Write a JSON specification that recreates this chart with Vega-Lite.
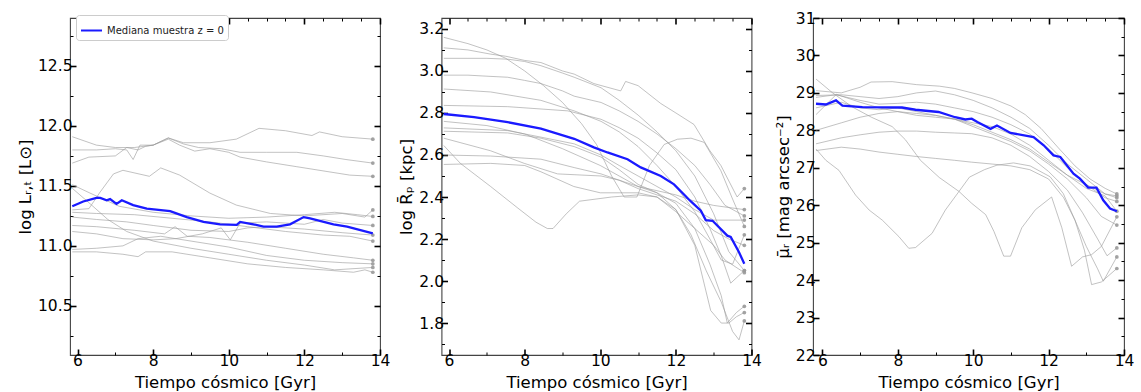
{
  "$schema": "https://vega.github.io/schema/vega-lite/v6.json",
  "padding": {"left": 16, "top": 10, "right": 5, "bottom": 0},
  "config": {
    "font": "DejaVu Sans",
    "view": {"stroke": "#444444", "strokeWidth": 1.1},
    "axis": {"labelFont": "DejaVu Sans", "labelFontSize": 15.5, "labelColor": "black", "titleFont": "DejaVu Sans", "titleFontSize": 16.5, "titleFontWeight": "normal", "titleColor": "black", "grid": false, "domain": false, "tickColor": "black", "labelFlush": false, "labelOverlap": false, "labelBound": false}
  },
  "datasets": {
    "p1": [
      {"s":"G1","t":5.86,"v":11.91},{"s":"G1","t":6.5,"v":11.84},{"s":"G1","t":7.0,"v":11.82},{"s":"G1","t":7.5,"v":11.82},{"s":"G1","t":8.0,"v":11.84},{"s":"G1","t":8.4,"v":11.90},{"s":"G1","t":8.8,"v":11.86},{"s":"G1","t":9.5,"v":11.86},{"s":"G1","t":10.2,"v":11.89},{"s":"G1","t":10.8,"v":11.98},{"s":"G1","t":11.5,"v":11.96},{"s":"G1","t":12.2,"v":11.92},{"s":"G1","t":12.4,"v":11.95},{"s":"G1","t":13.0,"v":11.91},{"s":"G1","t":13.81,"v":11.89},
      {"s":"G2","t":5.86,"v":11.80},{"s":"G2","t":6.5,"v":11.80},{"s":"G2","t":7.0,"v":11.81},{"s":"G2","t":7.3,"v":11.80},{"s":"G2","t":7.47,"v":11.72},{"s":"G2","t":7.65,"v":11.84},{"s":"G2","t":8.0,"v":11.84},{"s":"G2","t":8.4,"v":11.90},{"s":"G2","t":8.8,"v":11.85},{"s":"G2","t":9.2,"v":11.82},{"s":"G2","t":9.8,"v":11.81},{"s":"G2","t":10.3,"v":11.78},{"s":"G2","t":11.0,"v":11.78},{"s":"G2","t":11.8,"v":11.78},{"s":"G2","t":12.5,"v":11.75},{"s":"G2","t":13.1,"v":11.72},{"s":"G2","t":13.81,"v":11.69},
      {"s":"G3","t":5.86,"v":11.69},{"s":"G3","t":6.3,"v":11.74},{"s":"G3","t":7.0,"v":11.75},{"s":"G3","t":7.3,"v":11.82},{"s":"G3","t":7.6,"v":11.80},{"s":"G3","t":7.8,"v":11.83},{"s":"G3","t":8.0,"v":11.84},{"s":"G3","t":8.4,"v":11.89},{"s":"G3","t":8.7,"v":11.84},{"s":"G3","t":9.1,"v":11.79},{"s":"G3","t":9.5,"v":11.81},{"s":"G3","t":10.0,"v":11.78},{"s":"G3","t":10.3,"v":11.74},{"s":"G3","t":11.0,"v":11.70},{"s":"G3","t":11.8,"v":11.66},{"s":"G3","t":12.6,"v":11.62},{"s":"G3","t":13.2,"v":11.59},{"s":"G3","t":13.81,"v":11.58},
      {"s":"G4","t":5.86,"v":11.30},{"s":"G4","t":6.3,"v":11.31},{"s":"G4","t":6.6,"v":11.45},{"s":"G4","t":6.95,"v":11.60},{"s":"G4","t":7.2,"v":11.63},{"s":"G4","t":7.9,"v":11.58},{"s":"G4","t":8.2,"v":11.65},{"s":"G4","t":8.7,"v":11.59},{"s":"G4","t":9.5,"v":11.44},{"s":"G4","t":10.2,"v":11.34},{"s":"G4","t":11.1,"v":11.27},{"s":"G4","t":12.0,"v":11.25},{"s":"G4","t":13.0,"v":11.27},{"s":"G4","t":13.6,"v":11.24},{"s":"G4","t":13.81,"v":11.30},
      {"s":"G5","t":5.86,"v":11.51},{"s":"G5","t":6.33,"v":11.44},{"s":"G5","t":7.1,"v":11.33},{"s":"G5","t":8.0,"v":11.28},{"s":"G5","t":9.0,"v":11.25},{"s":"G5","t":10.0,"v":11.23},{"s":"G5","t":11.0,"v":11.24},{"s":"G5","t":12.0,"v":11.26},{"s":"G5","t":12.8,"v":11.28},{"s":"G5","t":13.4,"v":11.26},{"s":"G5","t":13.81,"v":11.245},
      {"s":"G6","t":5.86,"v":11.48},{"s":"G6","t":6.3,"v":11.36},{"s":"G6","t":6.8,"v":11.22},{"s":"G6","t":7.3,"v":11.12},{"s":"G6","t":8.0,"v":11.04},{"s":"G6","t":9.0,"v":10.98},{"s":"G6","t":10.0,"v":10.93},{"s":"G6","t":11.0,"v":10.88},{"s":"G6","t":12.0,"v":10.84},{"s":"G6","t":12.8,"v":10.80},{"s":"G6","t":13.81,"v":10.82},
      {"s":"G7","t":5.86,"v":11.28},{"s":"G7","t":6.5,"v":11.27},{"s":"G7","t":7.5,"v":11.26},{"s":"G7","t":8.5,"v":11.23},{"s":"G7","t":9.5,"v":11.20},{"s":"G7","t":10.5,"v":11.16},{"s":"G7","t":11.5,"v":11.12},{"s":"G7","t":12.5,"v":11.09},{"s":"G7","t":13.2,"v":11.08},{"s":"G7","t":13.81,"v":11.04},
      {"s":"G8","t":5.86,"v":11.17},{"s":"G8","t":6.5,"v":11.16},{"s":"G8","t":7.5,"v":11.13},{"s":"G8","t":8.3,"v":11.10},{"s":"G8","t":8.58,"v":11.16},{"s":"G8","t":8.9,"v":11.08},{"s":"G8","t":9.5,"v":11.07},{"s":"G8","t":10.5,"v":11.03},{"s":"G8","t":11.5,"v":10.98},{"s":"G8","t":12.5,"v":10.93},{"s":"G8","t":13.3,"v":10.90},{"s":"G8","t":13.81,"v":10.88},
      {"s":"G9","t":5.86,"v":11.12},{"s":"G9","t":6.5,"v":11.10},{"s":"G9","t":7.2,"v":11.06},{"s":"G9","t":8.0,"v":11.05},{"s":"G9","t":8.6,"v":11.06},{"s":"G9","t":9.3,"v":11.10},{"s":"G9","t":9.8,"v":11.15},{"s":"G9","t":10.04,"v":11.05},{"s":"G9","t":10.3,"v":11.19},{"s":"G9","t":11.0,"v":11.20},{"s":"G9","t":12.0,"v":11.18},{"s":"G9","t":12.5,"v":11.22},{"s":"G9","t":13.0,"v":11.19},{"s":"G9","t":13.81,"v":11.17},
      {"s":"G10","t":5.86,"v":10.97},{"s":"G10","t":6.5,"v":10.98},{"s":"G10","t":7.2,"v":11.0},{"s":"G10","t":7.6,"v":11.06},{"s":"G10","t":8.2,"v":11.08},{"s":"G10","t":9.0,"v":11.04},{"s":"G10","t":10.0,"v":10.99},{"s":"G10","t":11.0,"v":10.92},{"s":"G10","t":12.0,"v":10.88},{"s":"G10","t":13.0,"v":10.86},{"s":"G10","t":13.81,"v":10.85},
      {"s":"G11","t":5.86,"v":10.95},{"s":"G11","t":6.5,"v":10.95},{"s":"G11","t":7.2,"v":10.93},{"s":"G11","t":7.6,"v":10.91},{"s":"G11","t":7.8,"v":10.95},{"s":"G11","t":8.5,"v":10.95},{"s":"G11","t":9.5,"v":10.9},{"s":"G11","t":10.5,"v":10.85},{"s":"G11","t":11.5,"v":10.82},{"s":"G11","t":12.5,"v":10.8},{"s":"G11","t":13.3,"v":10.78},{"s":"G11","t":13.6,"v":10.80},{"s":"G11","t":13.81,"v":10.78},
      {"s":"G12","t":5.86,"v":11.24},{"s":"G12","t":6.5,"v":11.22},{"s":"G12","t":7.3,"v":11.20},{"s":"G12","t":8.0,"v":11.17},{"s":"G12","t":9.0,"v":11.13},{"s":"G12","t":10.0,"v":11.12},{"s":"G12","t":10.5,"v":11.15},{"s":"G12","t":11.0,"v":11.16},{"s":"G12","t":12.0,"v":11.14},{"s":"G12","t":13.0,"v":11.11},{"s":"G12","t":13.81,"v":11.09}
    ],
    "m1": [
      {"t":5.86,"v":11.33},{"t":6.15,"v":11.37},{"t":6.5,"v":11.40},{"t":6.6,"v":11.40},{"t":6.77,"v":11.38},{"t":6.86,"v":11.39},{"t":7.03,"v":11.35},{"t":7.17,"v":11.38},{"t":7.47,"v":11.34},{"t":7.83,"v":11.31},{"t":8.45,"v":11.29},{"t":8.89,"v":11.24},{"t":9.33,"v":11.20},{"t":9.77,"v":11.18},{"t":10.21,"v":11.175},{"t":10.3,"v":11.20},{"t":10.65,"v":11.18},{"t":10.92,"v":11.16},{"t":11.27,"v":11.16},{"t":11.62,"v":11.18},{"t":11.98,"v":11.24},{"t":12.15,"v":11.23},{"t":12.77,"v":11.18},{"t":13.13,"v":11.16},{"t":13.81,"v":11.105}
    ],
    "p2": [
      {"s":"A","t":5.86,"v":3.16},{"s":"A","t":6.5,"v":3.13},{"s":"A","t":7.0,"v":3.10},{"s":"A","t":7.5,"v":3.06},{"s":"A","t":8.0,"v":3.00},{"s":"A","t":8.5,"v":2.93},{"s":"A","t":9.0,"v":2.85},{"s":"A","t":9.5,"v":2.75},{"s":"A","t":9.9,"v":2.65},{"s":"A","t":10.3,"v":2.50},{"s":"A","t":10.63,"v":2.40},{"s":"A","t":10.97,"v":2.40},{"s":"A","t":11.3,"v":2.55},{"s":"A","t":11.69,"v":2.65},{"s":"A","t":12.04,"v":2.675},{"s":"A","t":12.4,"v":2.68},{"s":"A","t":12.75,"v":2.66},{"s":"A","t":13.19,"v":2.525},{"s":"A","t":13.5,"v":2.39},{"s":"A","t":13.81,"v":2.26},
      {"s":"B","t":5.86,"v":3.11},{"s":"B","t":6.5,"v":3.10},{"s":"B","t":7.1,"v":3.08},{"s":"B","t":7.5,"v":3.07},{"s":"B","t":8.0,"v":3.05},{"s":"B","t":8.43,"v":3.04},{"s":"B","t":9.0,"v":3.0},{"s":"B","t":9.31,"v":2.985},{"s":"B","t":9.83,"v":2.94},{"s":"B","t":10.54,"v":2.905},{"s":"B","t":10.67,"v":2.95},{"s":"B","t":11.0,"v":2.93},{"s":"B","t":11.6,"v":2.845},{"s":"B","t":12.0,"v":2.80},{"s":"B","t":12.48,"v":2.745},{"s":"B","t":12.9,"v":2.62},{"s":"B","t":13.19,"v":2.55},{"s":"B","t":13.62,"v":2.40},{"s":"B","t":13.81,"v":2.44},
      {"s":"C","t":5.86,"v":3.06},{"s":"C","t":6.5,"v":3.06},{"s":"C","t":7.0,"v":3.06},{"s":"C","t":7.55,"v":3.056},{"s":"C","t":8.0,"v":3.045},{"s":"C","t":8.43,"v":3.025},{"s":"C","t":9.0,"v":2.99},{"s":"C","t":9.31,"v":2.97},{"s":"C","t":10.02,"v":2.92},{"s":"C","t":10.5,"v":2.86},{"s":"C","t":11.0,"v":2.79},{"s":"C","t":11.5,"v":2.71},{"s":"C","t":12.0,"v":2.62},{"s":"C","t":12.5,"v":2.50},{"s":"C","t":13.0,"v":2.32},{"s":"C","t":13.4,"v":2.14},{"s":"C","t":13.81,"v":2.05},
      {"s":"D","t":5.86,"v":2.98},{"s":"D","t":6.5,"v":2.98},{"s":"D","t":7.0,"v":2.975},{"s":"D","t":7.55,"v":2.97},{"s":"D","t":8.0,"v":2.955},{"s":"D","t":8.43,"v":2.94},{"s":"D","t":9.0,"v":2.905},{"s":"D","t":9.31,"v":2.88},{"s":"D","t":10.02,"v":2.85},{"s":"D","t":10.5,"v":2.81},{"s":"D","t":11.0,"v":2.76},{"s":"D","t":11.5,"v":2.70},{"s":"D","t":12.0,"v":2.63},{"s":"D","t":12.5,"v":2.55},{"s":"D","t":12.9,"v":2.46},{"s":"D","t":13.3,"v":2.36},{"s":"D","t":13.81,"v":2.31},
      {"s":"E","t":5.86,"v":2.914},{"s":"E","t":7.1,"v":2.90},{"s":"E","t":8.43,"v":2.86},{"s":"E","t":9.31,"v":2.81},{"s":"E","t":10.02,"v":2.76},{"s":"E","t":10.5,"v":2.71},{"s":"E","t":11.0,"v":2.64},{"s":"E","t":11.5,"v":2.55},{"s":"E","t":12.0,"v":2.45},{"s":"E","t":12.5,"v":2.33},{"s":"E","t":12.9,"v":2.20},{"s":"E","t":13.2,"v":2.10},{"s":"E","t":13.5,"v":2.08},{"s":"E","t":13.81,"v":2.22},
      {"s":"F","t":5.86,"v":2.836},{"s":"F","t":7.55,"v":2.83},{"s":"F","t":9.14,"v":2.81},{"s":"F","t":10.02,"v":2.77},{"s":"F","t":10.5,"v":2.73},{"s":"F","t":11.0,"v":2.68},{"s":"F","t":11.5,"v":2.61},{"s":"F","t":12.0,"v":2.53},{"s":"F","t":12.5,"v":2.40},{"s":"F","t":12.9,"v":2.25},{"s":"F","t":13.2,"v":2.12},{"s":"F","t":13.45,"v":1.99},{"s":"F","t":13.81,"v":2.05},
      {"s":"G","t":5.86,"v":2.729},{"s":"G","t":7.55,"v":2.716},{"s":"G","t":8.43,"v":2.685},{"s":"G","t":9.31,"v":2.653},{"s":"G","t":10.02,"v":2.60},{"s":"G","t":10.5,"v":2.55},{"s":"G","t":11.0,"v":2.50},{"s":"G","t":11.5,"v":2.45},{"s":"G","t":12.0,"v":2.40},{"s":"G","t":12.5,"v":2.34},{"s":"G","t":13.0,"v":2.29},{"s":"G","t":13.4,"v":2.29},{"s":"G","t":13.81,"v":2.29},
      {"s":"H","t":5.86,"v":2.713},{"s":"H","t":7.55,"v":2.705},{"s":"H","t":8.43,"v":2.68},{"s":"H","t":9.31,"v":2.64},{"s":"H","t":10.02,"v":2.59},{"s":"H","t":10.5,"v":2.53},{"s":"H","t":11.0,"v":2.46},{"s":"H","t":11.5,"v":2.42},{"s":"H","t":12.0,"v":2.37},{"s":"H","t":12.5,"v":2.25},{"s":"H","t":12.9,"v":2.08},{"s":"H","t":13.2,"v":1.93},{"s":"H","t":13.36,"v":1.80},{"s":"H","t":13.6,"v":1.85},{"s":"H","t":13.81,"v":1.88},
      {"s":"I","t":5.86,"v":2.68},{"s":"I","t":7.1,"v":2.62},{"s":"I","t":7.99,"v":2.56},{"s":"I","t":8.87,"v":2.51},{"s":"I","t":10.02,"v":2.50},{"s":"I","t":10.5,"v":2.48},{"s":"I","t":11.0,"v":2.45},{"s":"I","t":11.5,"v":2.42},{"s":"I","t":12.0,"v":2.34},{"s":"I","t":12.5,"v":2.17},{"s":"I","t":12.92,"v":1.86},{"s":"I","t":13.2,"v":1.80},{"s":"I","t":13.4,"v":1.80},{"s":"I","t":13.6,"v":1.83},{"s":"I","t":13.81,"v":1.85},
      {"s":"J","t":5.86,"v":2.645},{"s":"J","t":6.3,"v":2.56},{"s":"J","t":7.1,"v":2.45},{"s":"J","t":7.8,"v":2.35},{"s":"J","t":8.3,"v":2.28},{"s":"J","t":8.6,"v":2.25},{"s":"J","t":8.75,"v":2.25},{"s":"J","t":9.1,"v":2.32},{"s":"J","t":9.45,"v":2.38},{"s":"J","t":10.3,"v":2.40},{"s":"J","t":11.0,"v":2.41},{"s":"J","t":11.5,"v":2.40},{"s":"J","t":12.0,"v":2.34},{"s":"J","t":12.4,"v":2.22},{"s":"J","t":12.8,"v":2.05},{"s":"J","t":13.2,"v":1.90},{"s":"J","t":13.5,"v":1.76},{"s":"J","t":13.67,"v":1.72},{"s":"J","t":13.81,"v":1.81},
      {"s":"K","t":5.86,"v":2.60},{"s":"K","t":7.1,"v":2.595},{"s":"K","t":8.43,"v":2.58},{"s":"K","t":9.31,"v":2.54},{"s":"K","t":10.02,"v":2.51},{"s":"K","t":10.5,"v":2.48},{"s":"K","t":11.0,"v":2.44},{"s":"K","t":11.5,"v":2.41},{"s":"K","t":12.0,"v":2.38},{"s":"K","t":12.5,"v":2.32},{"s":"K","t":13.0,"v":2.24},{"s":"K","t":13.4,"v":2.20},{"s":"K","t":13.81,"v":2.17},
      {"s":"L","t":5.86,"v":2.555},{"s":"L","t":7.1,"v":2.56},{"s":"L","t":8.0,"v":2.55},{"s":"L","t":8.43,"v":2.52},{"s":"L","t":9.3,"v":2.45},{"s":"L","t":10.0,"v":2.42},{"s":"L","t":10.5,"v":2.42},{"s":"L","t":11.0,"v":2.42},{"s":"L","t":11.5,"v":2.40},{"s":"L","t":12.0,"v":2.33},{"s":"L","t":12.5,"v":2.25},{"s":"L","t":13.0,"v":2.17},{"s":"L","t":13.3,"v":2.1},{"s":"L","t":13.81,"v":2.04},
      {"s":"M","t":5.86,"v":2.76},{"s":"M","t":7.0,"v":2.74},{"s":"M","t":8.0,"v":2.70},{"s":"M","t":9.0,"v":2.63},{"s":"M","t":10.0,"v":2.55},{"s":"M","t":10.5,"v":2.50},{"s":"M","t":11.0,"v":2.45},{"s":"M","t":11.5,"v":2.43},{"s":"M","t":12.0,"v":2.41},{"s":"M","t":12.5,"v":2.38},{"s":"M","t":13.0,"v":2.36},{"s":"M","t":13.4,"v":2.35},{"s":"M","t":13.81,"v":2.34}
    ],
    "m2": [
      {"t":5.86,"v":2.795},{"t":6.66,"v":2.78},{"t":7.55,"v":2.756},{"t":8.43,"v":2.725},{"t":9.31,"v":2.677},{"t":9.83,"v":2.636},{"t":10.19,"v":2.612},{"t":10.72,"v":2.58},{"t":11.07,"v":2.541},{"t":11.6,"v":2.50},{"t":11.95,"v":2.46},{"t":12.39,"v":2.38},{"t":12.66,"v":2.335},{"t":12.79,"v":2.29},{"t":12.97,"v":2.287},{"t":13.36,"v":2.216},{"t":13.45,"v":2.21},{"t":13.67,"v":2.137},{"t":13.81,"v":2.082}
    ],
    "p3": [
      {"s":"Q1","t":5.83,"v":29.37},{"s":"Q1","t":6.27,"v":29.0},{"s":"Q1","t":6.8,"v":28.62},{"s":"Q1","t":7.3,"v":28.35},{"s":"Q1","t":7.85,"v":28.1},{"s":"Q1","t":8.2,"v":27.75},{"s":"Q1","t":8.6,"v":27.2},{"s":"Q1","t":9.1,"v":26.74},{"s":"Q1","t":9.62,"v":26.37},{"s":"Q1","t":9.96,"v":26.05},{"s":"Q1","t":10.33,"v":25.75},{"s":"Q1","t":10.55,"v":25.3},{"s":"Q1","t":10.81,"v":24.64},{"s":"Q1","t":10.99,"v":24.64},{"s":"Q1","t":11.29,"v":25.4},{"s":"Q1","t":11.65,"v":25.88},{"s":"Q1","t":12.08,"v":26.22},{"s":"Q1","t":12.35,"v":25.4},{"s":"Q1","t":12.61,"v":24.37},{"s":"Q1","t":12.9,"v":24.62},{"s":"Q1","t":13.14,"v":24.68},{"s":"Q1","t":13.4,"v":24.9},{"s":"Q1","t":13.81,"v":25.69},
      {"s":"QV","t":5.83,"v":27.5},{"s":"QV","t":6.09,"v":27.2},{"s":"QV","t":6.44,"v":26.93},{"s":"QV","t":6.88,"v":26.27},{"s":"QV","t":7.24,"v":25.87},{"s":"QV","t":7.59,"v":25.6},{"s":"QV","t":8.03,"v":25.16},{"s":"QV","t":8.29,"v":24.85},{"s":"QV","t":8.47,"v":24.87},{"s":"QV","t":8.91,"v":25.25},{"s":"QV","t":9.26,"v":25.87},{"s":"QV","t":9.61,"v":26.35},{"s":"QV","t":9.9,"v":26.75},{"s":"QV","t":10.3,"v":26.95},{"s":"QV","t":10.63,"v":27.07},{"s":"QV","t":11.07,"v":27.13},{"s":"QV","t":11.51,"v":27.05},{"s":"QV","t":12.04,"v":26.76},{"s":"QV","t":12.39,"v":26.31},{"s":"QV","t":12.7,"v":25.6},{"s":"QV","t":13.0,"v":24.9},{"s":"QV","t":13.3,"v":24.3},{"s":"QV","t":13.45,"v":23.97},{"s":"QV","t":13.81,"v":24.62},
      {"s":"QF","t":5.83,"v":27.46},{"s":"QF","t":6.5,"v":27.55},{"s":"QF","t":7.0,"v":27.5},{"s":"QF","t":7.5,"v":27.42},{"s":"QF","t":8.0,"v":27.36},{"s":"QF","t":8.5,"v":27.3},{"s":"QF","t":9.0,"v":27.25},{"s":"QF","t":9.5,"v":27.2},{"s":"QF","t":9.96,"v":27.15},{"s":"QF","t":10.5,"v":27.1},{"s":"QF","t":11.0,"v":27.05},{"s":"QF","t":11.5,"v":26.95},{"s":"QF","t":12.0,"v":26.7},{"s":"QF","t":12.4,"v":26.2},{"s":"QF","t":12.7,"v":25.6},{"s":"QF","t":12.95,"v":24.8},{"s":"QF","t":13.14,"v":23.88},{"s":"QF","t":13.4,"v":23.95},{"s":"QF","t":13.81,"v":24.31},
      {"s":"QT","t":5.83,"v":29.06},{"s":"QT","t":6.5,"v":29.0},{"s":"QT","t":7.0,"v":29.15},{"s":"QT","t":7.29,"v":29.29},{"s":"QT","t":7.85,"v":29.3},{"s":"QT","t":8.5,"v":29.22},{"s":"QT","t":9.1,"v":29.18},{"s":"QT","t":9.5,"v":29.12},{"s":"QT","t":9.97,"v":29.0},{"s":"QT","t":10.5,"v":28.85},{"s":"QT","t":11.0,"v":28.65},{"s":"QT","t":11.38,"v":28.42},{"s":"QT","t":11.8,"v":28.05},{"s":"QT","t":12.26,"v":27.53},{"s":"QT","t":12.7,"v":27.05},{"s":"QT","t":13.1,"v":26.7},{"s":"QT","t":13.5,"v":26.45},{"s":"QT","t":13.81,"v":26.3},
      {"s":"Q29","t":5.83,"v":28.93},{"s":"Q29","t":6.5,"v":28.95},{"s":"Q29","t":7.0,"v":28.9},{"s":"Q29","t":7.5,"v":28.85},{"s":"Q29","t":8.0,"v":28.9},{"s":"Q29","t":8.5,"v":29.0},{"s":"Q29","t":9.0,"v":29.05},{"s":"Q29","t":9.5,"v":28.95},{"s":"Q29","t":10.0,"v":28.8},{"s":"Q29","t":10.5,"v":28.6},{"s":"Q29","t":11.0,"v":28.35},{"s":"Q29","t":11.5,"v":28.05},{"s":"Q29","t":12.0,"v":27.6},{"s":"Q29","t":12.5,"v":27.1},{"s":"Q29","t":13.0,"v":26.7},{"s":"Q29","t":13.5,"v":26.3},{"s":"Q29","t":13.81,"v":26.2},
      {"s":"Q288","t":5.83,"v":28.88},{"s":"Q288","t":6.36,"v":28.95},{"s":"Q288","t":7.0,"v":28.8},{"s":"Q288","t":7.5,"v":28.7},{"s":"Q288","t":8.0,"v":28.72},{"s":"Q288","t":8.5,"v":28.75},{"s":"Q288","t":9.0,"v":28.7},{"s":"Q288","t":9.5,"v":28.6},{"s":"Q288","t":10.0,"v":28.5},{"s":"Q288","t":10.5,"v":28.35},{"s":"Q288","t":11.0,"v":28.15},{"s":"Q288","t":11.5,"v":27.9},{"s":"Q288","t":12.0,"v":27.5},{"s":"Q288","t":12.5,"v":27.0},{"s":"Q288","t":13.0,"v":26.55},{"s":"Q288","t":13.5,"v":26.2},{"s":"Q288","t":13.81,"v":26.1},
      {"s":"Q284","t":5.83,"v":28.42},{"s":"Q284","t":6.37,"v":28.96},{"s":"Q284","t":7.0,"v":28.75},{"s":"Q284","t":7.5,"v":28.6},{"s":"Q284","t":8.0,"v":28.5},{"s":"Q284","t":8.5,"v":28.4},{"s":"Q284","t":9.0,"v":28.35},{"s":"Q284","t":9.5,"v":28.3},{"s":"Q284","t":10.0,"v":28.2},{"s":"Q284","t":10.5,"v":28.1},{"s":"Q284","t":11.0,"v":27.9},{"s":"Q284","t":11.5,"v":27.6},{"s":"Q284","t":12.0,"v":27.2},{"s":"Q284","t":12.5,"v":26.8},{"s":"Q284","t":13.0,"v":26.45},{"s":"Q284","t":13.5,"v":26.25},{"s":"Q284","t":13.81,"v":25.84},
      {"s":"Q280","t":5.83,"v":28.0},{"s":"Q280","t":6.5,"v":28.2},{"s":"Q280","t":7.0,"v":28.35},{"s":"Q280","t":7.5,"v":28.45},{"s":"Q280","t":8.0,"v":28.5},{"s":"Q280","t":8.5,"v":28.45},{"s":"Q280","t":9.0,"v":28.4},{"s":"Q280","t":9.5,"v":28.3},{"s":"Q280","t":10.0,"v":28.1},{"s":"Q280","t":10.5,"v":27.9},{"s":"Q280","t":11.0,"v":27.7},{"s":"Q280","t":11.5,"v":27.45},{"s":"Q280","t":12.0,"v":27.1},{"s":"Q280","t":12.5,"v":26.7},{"s":"Q280","t":13.0,"v":26.2},{"s":"Q280","t":13.4,"v":25.7},{"s":"Q280","t":13.81,"v":25.47},
      {"s":"Q276","t":5.83,"v":27.64},{"s":"Q276","t":6.5,"v":27.8},{"s":"Q276","t":7.0,"v":27.88},{"s":"Q276","t":7.5,"v":27.95},{"s":"Q276","t":8.0,"v":27.98},{"s":"Q276","t":8.5,"v":27.98},{"s":"Q276","t":9.0,"v":27.95},{"s":"Q276","t":9.5,"v":27.93},{"s":"Q276","t":9.96,"v":27.91},{"s":"Q276","t":10.5,"v":27.8},{"s":"Q276","t":11.0,"v":27.6},{"s":"Q276","t":11.5,"v":27.3},{"s":"Q276","t":12.0,"v":26.9},{"s":"Q276","t":12.5,"v":26.4},{"s":"Q276","t":12.9,"v":25.8},{"s":"Q276","t":13.3,"v":25.1},{"s":"Q276","t":13.55,"v":24.65},{"s":"Q276","t":13.81,"v":24.86},
      {"s":"Q287","t":5.83,"v":28.6},{"s":"Q287","t":6.5,"v":28.75},{"s":"Q287","t":7.0,"v":28.6},{"s":"Q287","t":7.5,"v":28.55},{"s":"Q287","t":8.0,"v":28.6},{"s":"Q287","t":8.5,"v":28.5},{"s":"Q287","t":9.0,"v":28.4},{"s":"Q287","t":9.5,"v":28.3},{"s":"Q287","t":10.0,"v":28.15},{"s":"Q287","t":10.5,"v":27.95},{"s":"Q287","t":11.0,"v":27.75},{"s":"Q287","t":11.5,"v":27.5},{"s":"Q287","t":12.0,"v":27.15},{"s":"Q287","t":12.5,"v":26.8},{"s":"Q287","t":13.0,"v":26.55},{"s":"Q287","t":13.5,"v":26.3},{"s":"Q287","t":13.81,"v":26.25}
    ],
    "m3": [
      {"t":5.83,"v":28.71},{"t":6.09,"v":28.69},{"t":6.36,"v":28.80},{"t":6.53,"v":28.66},{"t":7.06,"v":28.62},{"t":8.11,"v":28.61},{"t":8.47,"v":28.55},{"t":9.08,"v":28.49},{"t":9.52,"v":28.35},{"t":9.79,"v":28.29},{"t":9.96,"v":28.31},{"t":10.11,"v":28.22},{"t":10.46,"v":28.04},{"t":10.63,"v":28.13},{"t":10.99,"v":27.93},{"t":11.6,"v":27.82},{"t":11.87,"v":27.6},{"t":12.13,"v":27.33},{"t":12.31,"v":27.29},{"t":12.66,"v":26.84},{"t":12.83,"v":26.71},{"t":13.05,"v":26.47},{"t":13.27,"v":26.47},{"t":13.45,"v":26.13},{"t":13.63,"v":25.91},{"t":13.81,"v":25.84}
    ]
  },
  "hconcat": [
    {
      "width": 310, "height": 337,
      "layer": [
        {
          "data": {"name": "p1"},
          "mark": {"type": "line", "color": "#999999", "opacity": 0.6, "strokeWidth": 1, "clip": true},
          "encoding": {
            "x": {"field": "t", "type": "quantitative", "scale": {"domain": [5.8, 14], "nice": false, "zero": false},
              "axis": {"orient": "bottom", "values": [6,6.5,7,7.5,8,8.5,9,9.5,10,10.5,11,11.5,12,12.5,13,13.5,14], "format": "d",
                "labelExpr": "abs(datum.value/2-round(datum.value/2))<0.001 ? datum.label : ''",
                "tickSize": {"condition": {"test": "abs(datum.value/2-round(datum.value/2))<0.001", "value": -6}, "value": -3},
                "tickWidth": {"condition": {"test": "abs(datum.value/2-round(datum.value/2))<0.001", "value": 1.6}, "value": 1},
                "labelPadding": 4, "title": "Tiempo cósmico [Gyr]", "titlePadding": 3}},
            "y": {"field": "v", "type": "quantitative", "scale": {"domain": [10.09, 12.9], "nice": false, "zero": false},
              "axis": {"orient": "left", "values": [10.25,10.5,10.75,11,11.25,11.5,11.75,12,12.25,12.5,12.75], "format": ".1f",
                "labelExpr": "abs(datum.value*2-round(datum.value*2))<0.001 ? datum.label : ''",
                "tickSize": {"condition": {"test": "abs(datum.value*2-round(datum.value*2))<0.001", "value": -6}, "value": -3},
                "tickWidth": {"condition": {"test": "abs(datum.value*2-round(datum.value*2))<0.001", "value": 1.6}, "value": 1},
                "labelPadding": 4, "title": "log Lᵣ,ₜ [L⊙]", "titlePadding": 4}},
            "detail": {"field": "s"}
          }
        },
        {
          "data": {"name": "p1"},
          "transform": [{"joinaggregate": [{"op": "max", "field": "t", "as": "tmax"}], "groupby": ["s"]}, {"filter": "datum.t === datum.tmax"}],
          "mark": {"type": "point", "filled": true, "size": 14, "color": "#999999", "opacity": 0.9},
          "encoding": {
            "x": {"field": "t", "type": "quantitative", "scale": {"domain": [5.8, 14], "nice": false, "zero": false},
              "axis": {"orient": "top", "values": [6,6.5,7,7.5,8,8.5,9,9.5,10,10.5,11,11.5,12,12.5,13,13.5,14], "labels": false, "title": null,
                "tickSize": {"condition": {"test": "abs(datum.value/2-round(datum.value/2))<0.001", "value": -6}, "value": -3},
                "tickWidth": {"condition": {"test": "abs(datum.value/2-round(datum.value/2))<0.001", "value": 1.6}, "value": 1}}},
            "y": {"field": "v", "type": "quantitative", "scale": {"domain": [10.09, 12.9], "nice": false, "zero": false},
              "axis": {"orient": "right", "values": [10.25,10.5,10.75,11,11.25,11.5,11.75,12,12.25,12.5,12.75], "labels": false, "title": null,
                "tickSize": {"condition": {"test": "abs(datum.value*2-round(datum.value*2))<0.001", "value": -6}, "value": -3},
                "tickWidth": {"condition": {"test": "abs(datum.value*2-round(datum.value*2))<0.001", "value": 1.6}, "value": 1}}}
          }
        },
        {
          "data": {"name": "m1"},
          "mark": {"type": "line", "strokeWidth": 2.3, "clip": true},
          "encoding": {
            "x": {"field": "t", "type": "quantitative", "axis": null},
            "y": {"field": "v", "type": "quantitative", "axis": null},
            "color": {"datum": "Mediana muestra z = 0", "type": "nominal", "scale": {"range": ["#1a1aff"]},
              "legend": {"orient": "none", "legendX": 6, "legendY": -3, "title": null, "symbolType": "stroke", "symbolStrokeWidth": 2, "symbolSize": 440, "labelFontSize": 10, "labelFont": "DejaVu Sans", "labelColor": "#222", "strokeColor": "#cccccc", "fillColor": "white", "padding": 4, "cornerRadius": 3}}
          }
        }
      ],
      "resolve": {"axis": {"x": "independent", "y": "independent"}}
    },
    {
      "width": 310, "height": 337,
      "layer": [
        {
          "data": {"name": "p2"},
          "mark": {"type": "line", "color": "#999999", "opacity": 0.6, "strokeWidth": 1, "clip": true},
          "encoding": {
            "x": {"field": "t", "type": "quantitative", "scale": {"domain": [5.8, 14], "nice": false, "zero": false},
              "axis": {"orient": "bottom", "values": [6,6.5,7,7.5,8,8.5,9,9.5,10,10.5,11,11.5,12,12.5,13,13.5,14], "format": "d",
                "labelExpr": "abs(datum.value/2-round(datum.value/2))<0.001 ? datum.label : ''",
                "tickSize": {"condition": {"test": "abs(datum.value/2-round(datum.value/2))<0.001", "value": -6}, "value": -3},
                "tickWidth": {"condition": {"test": "abs(datum.value/2-round(datum.value/2))<0.001", "value": 1.6}, "value": 1},
                "labelPadding": 4, "title": "Tiempo cósmico [Gyr]", "titlePadding": 3}},
            "y": {"field": "v", "type": "quantitative", "scale": {"domain": [1.648, 3.252], "nice": false, "zero": false},
              "axis": {"orient": "left", "values": [1.7,1.8,1.9,2.0,2.1,2.2,2.3,2.4,2.5,2.6,2.7,2.8,2.9,3.0,3.1,3.2], "format": ".1f",
                "labelExpr": "abs(datum.value*5-round(datum.value*5))<0.001 ? datum.label : ''",
                "tickSize": {"condition": {"test": "abs(datum.value*5-round(datum.value*5))<0.001", "value": -6}, "value": -3},
                "tickWidth": {"condition": {"test": "abs(datum.value*5-round(datum.value*5))<0.001", "value": 1.6}, "value": 1},
                "labelPadding": 4, "title": "log R̄ₚ [kpc]", "titlePadding": 4}},
            "detail": {"field": "s"}
          }
        },
        {
          "data": {"name": "p2"},
          "transform": [{"joinaggregate": [{"op": "max", "field": "t", "as": "tmax"}], "groupby": ["s"]}, {"filter": "datum.t === datum.tmax"}],
          "mark": {"type": "point", "filled": true, "size": 14, "color": "#999999", "opacity": 0.9},
          "encoding": {
            "x": {"field": "t", "type": "quantitative", "scale": {"domain": [5.8, 14], "nice": false, "zero": false},
              "axis": {"orient": "top", "values": [6,6.5,7,7.5,8,8.5,9,9.5,10,10.5,11,11.5,12,12.5,13,13.5,14], "labels": false, "title": null,
                "tickSize": {"condition": {"test": "abs(datum.value/2-round(datum.value/2))<0.001", "value": -6}, "value": -3},
                "tickWidth": {"condition": {"test": "abs(datum.value/2-round(datum.value/2))<0.001", "value": 1.6}, "value": 1}}},
            "y": {"field": "v", "type": "quantitative", "scale": {"domain": [1.648, 3.252], "nice": false, "zero": false},
              "axis": {"orient": "right", "values": [1.7,1.8,1.9,2.0,2.1,2.2,2.3,2.4,2.5,2.6,2.7,2.8,2.9,3.0,3.1,3.2], "labels": false, "title": null,
                "tickSize": {"condition": {"test": "abs(datum.value*5-round(datum.value*5))<0.001", "value": -6}, "value": -3},
                "tickWidth": {"condition": {"test": "abs(datum.value*5-round(datum.value*5))<0.001", "value": 1.6}, "value": 1}}}
          }
        },
        {
          "data": {"name": "m2"},
          "mark": {"type": "line", "strokeWidth": 2.3, "color": "#1a1aff", "clip": true},
          "encoding": {
            "x": {"field": "t", "type": "quantitative", "axis": null},
            "y": {"field": "v", "type": "quantitative", "axis": null}
          }
        }
      ],
      "resolve": {"axis": {"x": "independent", "y": "independent"}}
    },
    {
      "width": 311, "height": 337,
      "layer": [
        {
          "data": {"name": "p3"},
          "mark": {"type": "line", "color": "#999999", "opacity": 0.6, "strokeWidth": 1, "clip": true},
          "encoding": {
            "x": {"field": "t", "type": "quantitative", "scale": {"domain": [5.75, 14], "nice": false, "zero": false},
              "axis": {"orient": "bottom", "values": [6,6.5,7,7.5,8,8.5,9,9.5,10,10.5,11,11.5,12,12.5,13,13.5,14], "format": "d",
                "labelExpr": "abs(datum.value/2-round(datum.value/2))<0.001 ? datum.label : ''",
                "tickSize": {"condition": {"test": "abs(datum.value/2-round(datum.value/2))<0.001", "value": -6}, "value": -3},
                "tickWidth": {"condition": {"test": "abs(datum.value/2-round(datum.value/2))<0.001", "value": 1.6}, "value": 1},
                "labelPadding": 4, "title": "Tiempo cósmico [Gyr]", "titlePadding": 3}},
            "y": {"field": "v", "type": "quantitative", "scale": {"domain": [22, 31], "nice": false, "zero": false},
              "axis": {"orient": "left", "values": [22,22.5,23,23.5,24,24.5,25,25.5,26,26.5,27,27.5,28,28.5,29,29.5,30,30.5,31], "format": "d",
                "labelExpr": "abs(datum.value-round(datum.value))<0.001 ? datum.label : ''",
                "tickSize": {"condition": {"test": "abs(datum.value-round(datum.value))<0.001", "value": -6}, "value": -3},
                "tickWidth": {"condition": {"test": "abs(datum.value-round(datum.value))<0.001", "value": 1.6}, "value": 1},
                "labelPadding": 4, "title": "μ̄ᵣ [mag arcsec⁻²]", "titlePadding": 4}},
            "detail": {"field": "s"}
          }
        },
        {
          "data": {"name": "p3"},
          "transform": [{"joinaggregate": [{"op": "max", "field": "t", "as": "tmax"}], "groupby": ["s"]}, {"filter": "datum.t === datum.tmax"}],
          "mark": {"type": "point", "filled": true, "size": 14, "color": "#999999", "opacity": 0.9},
          "encoding": {
            "x": {"field": "t", "type": "quantitative", "scale": {"domain": [5.75, 14], "nice": false, "zero": false},
              "axis": {"orient": "top", "values": [6,6.5,7,7.5,8,8.5,9,9.5,10,10.5,11,11.5,12,12.5,13,13.5,14], "labels": false, "title": null,
                "tickSize": {"condition": {"test": "abs(datum.value/2-round(datum.value/2))<0.001", "value": -6}, "value": -3},
                "tickWidth": {"condition": {"test": "abs(datum.value/2-round(datum.value/2))<0.001", "value": 1.6}, "value": 1}}},
            "y": {"field": "v", "type": "quantitative", "scale": {"domain": [22, 31], "nice": false, "zero": false},
              "axis": {"orient": "right", "values": [22,22.5,23,23.5,24,24.5,25,25.5,26,26.5,27,27.5,28,28.5,29,29.5,30,30.5,31], "labels": false, "title": null,
                "tickSize": {"condition": {"test": "abs(datum.value-round(datum.value))<0.001", "value": -6}, "value": -3},
                "tickWidth": {"condition": {"test": "abs(datum.value-round(datum.value))<0.001", "value": 1.6}, "value": 1}}}
          }
        },
        {
          "data": {"name": "m3"},
          "mark": {"type": "line", "strokeWidth": 2.3, "color": "#1a1aff", "clip": true},
          "encoding": {
            "x": {"field": "t", "type": "quantitative", "axis": null},
            "y": {"field": "v", "type": "quantitative", "axis": null}
          }
        },
        {
          "mark": {"type": "rule", "color": "#f03c3c", "strokeWidth": 2, "strokeDash": [8, 4]},
          "encoding": {"y": {"datum": 26.33, "type": "quantitative", "axis": null}}
        }
      ],
      "resolve": {"axis": {"x": "independent", "y": "independent"}}
    }
  ],
  "spacing": 61.5,
  "bounds": "flush",
  "resolve": {"scale": {"color": "independent"}, "legend": {"color": "independent"}}
}
